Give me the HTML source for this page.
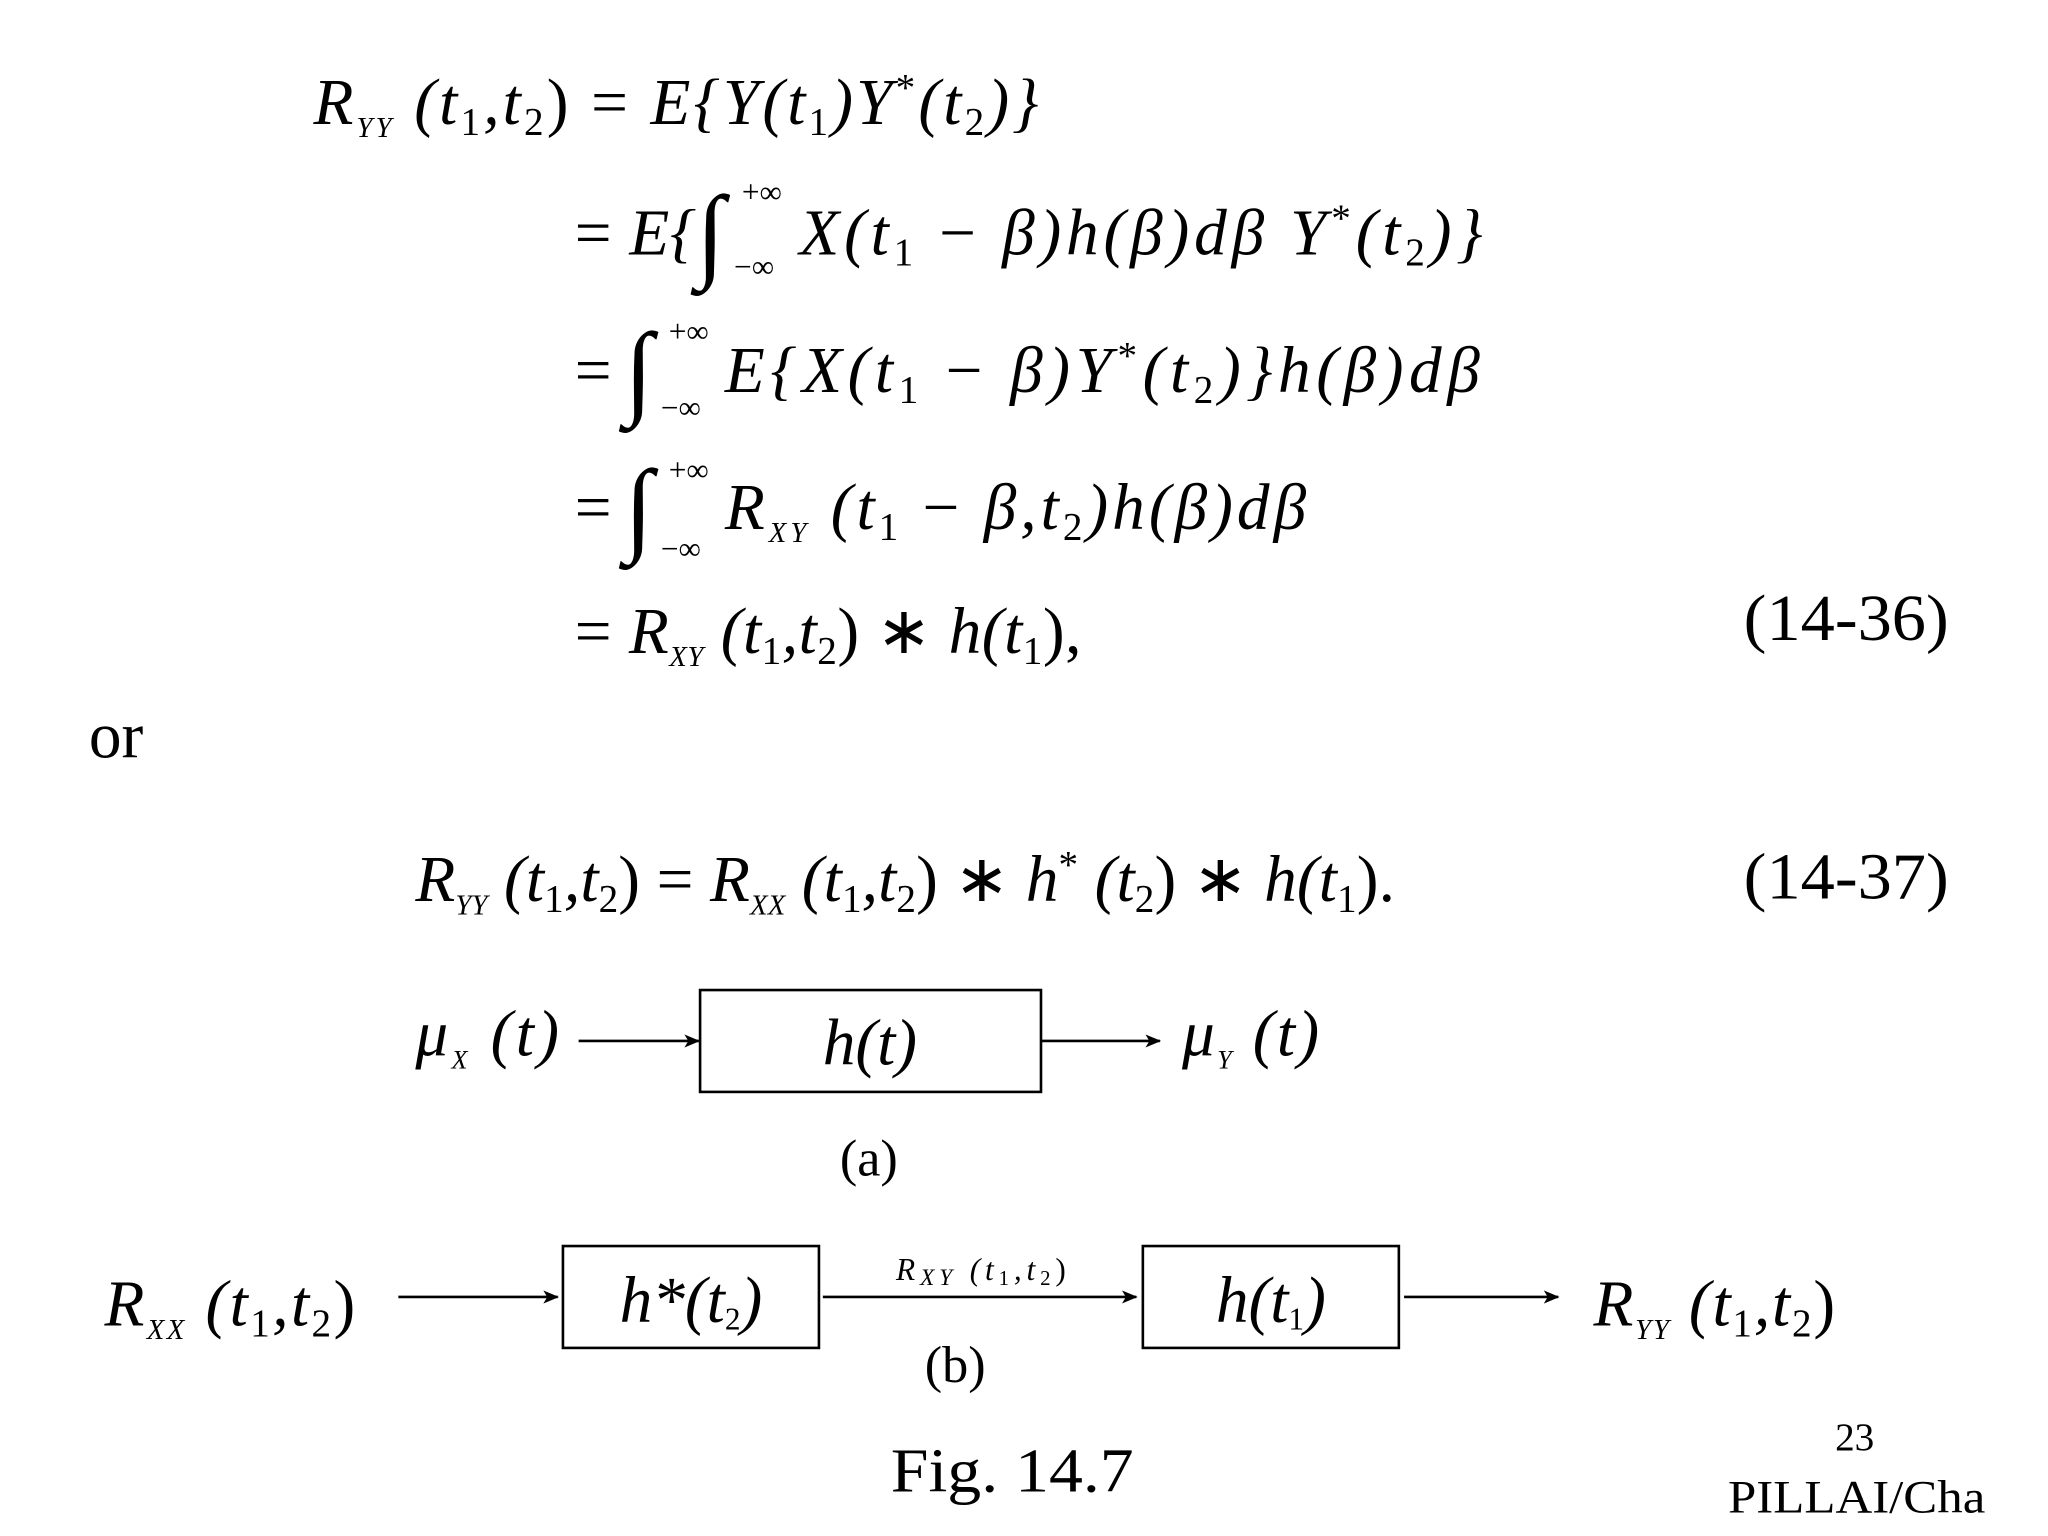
<!DOCTYPE html>
<html><head><meta charset="utf-8"><style>
html,body{margin:0;padding:0;background:#fff;}
svg{display:block}
text{font-family:"Liberation Serif",serif;fill:#000}
.i{font-style:italic}
</style></head><body>
<svg width="2048" height="1536" viewBox="0 0 1568 1176" xmlns="http://www.w3.org/2000/svg">
<defs><marker id="a" markerWidth="12" markerHeight="10" refX="11" refY="5" orient="auto" markerUnits="userSpaceOnUse"><path d="M0,0 L12,5 L0,10 L3,5 z" fill="#000"/></marker></defs>
<g font-size="50">
<!-- line 1 -->
<text x="240" y="95" class="i" textLength="555" lengthAdjust="spacing">R<tspan font-size="22" dy="10">YY</tspan><tspan dy="-10"> (t</tspan><tspan font-size="30" dy="8" font-style="normal">1</tspan><tspan dy="-8">,t</tspan><tspan font-size="30" dy="8" font-style="normal">2</tspan><tspan dy="-8" font-style="normal">) = </tspan>E{Y(t<tspan font-size="30" dy="8" font-style="normal">1</tspan><tspan dy="-8">)Y</tspan><tspan font-size="30" dy="-18" font-style="normal">*</tspan><tspan dy="18">(t</tspan><tspan font-size="30" dy="8" font-style="normal">2</tspan><tspan dy="-8">)}</tspan></text>
<!-- line 2 -->
<text x="440" y="195" class="i" textLength="93" lengthAdjust="spacing"><tspan font-style="normal">= </tspan>E{</text>
<text x="533" y="205" font-size="80">∫</text>
<text x="612" y="195" class="i" textLength="523" lengthAdjust="spacing">X(t<tspan font-size="30" dy="8" font-style="normal">1</tspan><tspan dy="-8" font-style="normal"> − </tspan>β)h(β)dβ Y<tspan font-size="30" dy="-18" font-style="normal">*</tspan><tspan dy="18">(t</tspan><tspan font-size="30" dy="8" font-style="normal">2</tspan><tspan dy="-8">)}</tspan></text>
<text x="568" y="155" font-size="24">+∞</text><text x="562" y="212" font-size="24">−∞</text>
<!-- line 3 -->
<text x="440" y="300" font-size="50">=</text>
<text x="478" y="310" font-size="80">∫</text>
<text x="555" y="300" class="i" textLength="578" lengthAdjust="spacing">E{X(t<tspan font-size="30" dy="8" font-style="normal">1</tspan><tspan dy="-8" font-style="normal"> − </tspan>β)Y<tspan font-size="30" dy="-18" font-style="normal">*</tspan><tspan dy="18">(t</tspan><tspan font-size="30" dy="8" font-style="normal">2</tspan><tspan dy="-8">)}h(β)dβ</tspan></text>
<text x="512" y="262" font-size="24">+∞</text><text x="506" y="320" font-size="24">−∞</text>
<!-- line 4 -->
<text x="440" y="405" font-size="50">=</text>
<text x="478" y="415" font-size="80">∫</text>
<text x="555" y="405" class="i" textLength="445" lengthAdjust="spacing">R<tspan font-size="22" dy="10">XY</tspan><tspan dy="-10"> (t</tspan><tspan font-size="30" dy="8" font-style="normal">1</tspan><tspan dy="-8" font-style="normal"> − </tspan>β,t<tspan font-size="30" dy="8" font-style="normal">2</tspan><tspan dy="-8">)h(β)dβ</tspan></text>
<text x="512" y="368" font-size="24">+∞</text><text x="506" y="428" font-size="24">−∞</text>
<!-- line 5 -->
<text x="440" y="500" class="i" textLength="388" lengthAdjust="spacing"><tspan font-style="normal">= </tspan>R<tspan font-size="22" dy="10">XY</tspan><tspan dy="-10"> (t</tspan><tspan font-size="30" dy="8" font-style="normal">1</tspan><tspan dy="-8">,t</tspan><tspan font-size="30" dy="8" font-style="normal">2</tspan><tspan dy="-8" font-style="normal">) ∗ </tspan>h(t<tspan font-size="30" dy="8" font-style="normal">1</tspan><tspan dy="-8" font-style="normal">),</tspan></text>
<text x="1335" y="490" textLength="157" lengthAdjust="spacingAndGlyphs">(14-36)</text>
<text x="68" y="580">or</text>
<text x="318" y="690" class="i" textLength="750" lengthAdjust="spacing">R<tspan font-size="22" dy="10">YY</tspan><tspan dy="-10"> (t</tspan><tspan font-size="30" dy="8" font-style="normal">1</tspan><tspan dy="-8">,t</tspan><tspan font-size="30" dy="8" font-style="normal">2</tspan><tspan dy="-8" font-style="normal">) = </tspan>R<tspan font-size="22" dy="10">XX</tspan><tspan dy="-10"> (t</tspan><tspan font-size="30" dy="8" font-style="normal">1</tspan><tspan dy="-8">,t</tspan><tspan font-size="30" dy="8" font-style="normal">2</tspan><tspan dy="-8" font-style="normal">) ∗ </tspan>h<tspan font-size="30" dy="-18" font-style="normal">*</tspan><tspan dy="18"> (t</tspan><tspan font-size="30" dy="8" font-style="normal">2</tspan><tspan dy="-8" font-style="normal">) ∗ </tspan>h(t<tspan font-size="30" dy="8" font-style="normal">1</tspan><tspan dy="-8" font-style="normal">).</tspan></text>
<text x="1335" y="688" textLength="157" lengthAdjust="spacingAndGlyphs">(14-37)</text>
<!-- diagram a -->
<text x="318" y="808" class="i" textLength="110" lengthAdjust="spacing">μ<tspan font-size="20" dy="10">X</tspan><tspan dy="-10"> (t)</tspan></text>
<line x1="443" y1="797" x2="535" y2="797" stroke="#000" stroke-width="2" marker-end="url(#a)"/>
<rect x="536" y="758" width="261" height="78" fill="none" stroke="#000" stroke-width="2"/>
<text x="666" y="815" text-anchor="middle" class="i">h(t)</text>
<line x1="797" y1="797" x2="888" y2="797" stroke="#000" stroke-width="2" marker-end="url(#a)"/>
<text x="905" y="808" class="i" textLength="105" lengthAdjust="spacing">μ<tspan font-size="20" dy="10">Y</tspan><tspan dy="-10"> (t)</tspan></text>
<text x="643" y="900" font-size="40">(a)</text>
<!-- diagram b -->
<text x="80" y="1015" class="i" textLength="192" lengthAdjust="spacing">R<tspan font-size="22" dy="10">XX</tspan><tspan dy="-10"> (t</tspan><tspan font-size="30" dy="8" font-style="normal">1</tspan><tspan dy="-8">,t</tspan><tspan font-size="30" dy="8" font-style="normal">2</tspan><tspan dy="-8" font-style="normal">)</tspan></text>
<line x1="305" y1="993" x2="427" y2="993" stroke="#000" stroke-width="2" marker-end="url(#a)"/>
<rect x="431" y="954" width="196" height="78" fill="none" stroke="#000" stroke-width="2"/>
<text x="529" y="1012" text-anchor="middle" class="i">h*(t<tspan font-size="24" dy="6" font-style="normal">2</tspan><tspan dy="-6">)</tspan></text>
<line x1="630" y1="993" x2="870" y2="993" stroke="#000" stroke-width="2" marker-end="url(#a)"/>
<text x="686" y="980" font-size="24" class="i" textLength="130" lengthAdjust="spacing">R<tspan font-size="18" dy="4">XY</tspan><tspan dy="-4"> (t</tspan><tspan font-size="16" dy="4" font-style="normal">1</tspan><tspan dy="-4">,t</tspan><tspan font-size="16" dy="4" font-style="normal">2</tspan><tspan dy="-4" font-style="normal">)</tspan></text>
<rect x="875" y="954" width="196" height="78" fill="none" stroke="#000" stroke-width="2"/>
<text x="973" y="1012" text-anchor="middle" class="i">h(t<tspan font-size="24" dy="6" font-style="normal">1</tspan><tspan dy="-6">)</tspan></text>
<line x1="1075" y1="993" x2="1193" y2="993" stroke="#000" stroke-width="2" marker-end="url(#a)"/>
<text x="1220" y="1015" class="i" textLength="185" lengthAdjust="spacing">R<tspan font-size="22" dy="10">YY</tspan><tspan dy="-10"> (t</tspan><tspan font-size="30" dy="8" font-style="normal">1</tspan><tspan dy="-8">,t</tspan><tspan font-size="30" dy="8" font-style="normal">2</tspan><tspan dy="-8" font-style="normal">)</tspan></text>
<text x="708" y="1058" font-size="40">(b)</text>
<text x="682" y="1142" font-size="48" textLength="186" lengthAdjust="spacingAndGlyphs">Fig. 14.7</text>
<text x="1405" y="1110" font-size="30">23</text>
<text x="1323" y="1158" font-size="36" textLength="197" lengthAdjust="spacingAndGlyphs">PILLAI/Cha</text>
</g>
</svg>
</body></html>
